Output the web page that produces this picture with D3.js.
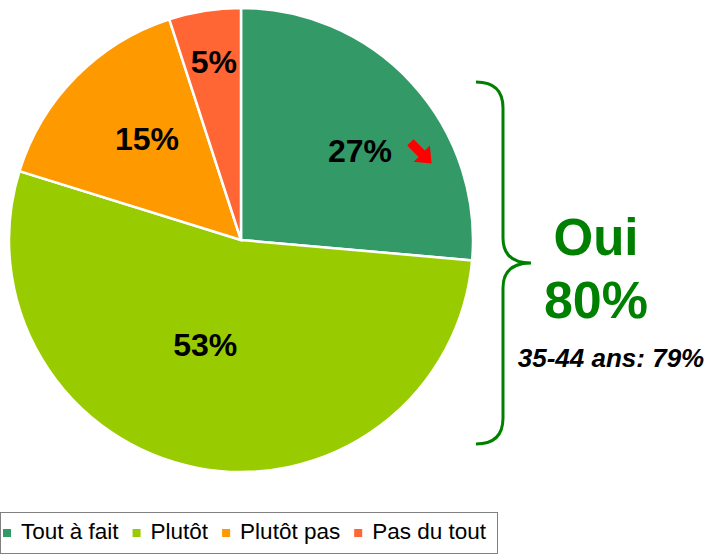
<!DOCTYPE html>
<html>
<head>
<meta charset="utf-8">
<script src="https://cdn.jsdelivr.net/npm/d3@7"></script>
<style>
  body { margin: 0; background: #fff; }
  text { font-family: Arial, "Liberation Sans", sans-serif; }
</style>
</head>
<body>
<div id="chart"></div>
<script>
// slice shares as they appear on the pie, and the labels printed on it
const categories = ["Tout à fait", "Plutôt", "Plutôt pas", "Pas du tout"];
const shares = [26.4, 53.4, 15.2, 5.0];
const sliceLabels = ["27%", "53%", "15%", "5%"];
const colors = ["#339966", "#99CC00", "#FF9900", "#FF6633"];
const yesLabel = "Oui";
const yesValue = "80%";
const subNote = "35-44 ans: 79%";

function drawPie() {
    const width = 710;
    const height = 555;
    const cx = 241, cy = 240, radius = 232;

    var svg = d3.select('#chart')
        .append('svg')
        .attr('width', width)
        .attr('height', height);

    var data = categories.map((c, i) => ({ cat: c, value: shares[i], label: sliceLabels[i], color: colors[i] }));

    var pie = d3.pie().sort(null).value(d => d.value);
    var arc = d3.arc().innerRadius(0).outerRadius(radius);

    var g = svg.append('g').attr('transform', `translate(${cx},${cy})`);

    g.selectAll('path')
        .data(pie(data))
        .enter()
        .append('path')
        .attr('d', arc)
        .attr('fill', d => d.data.color)
        .attr('stroke', 'white')
        .attr('stroke-width', 2.5);

    // label placement: radius fraction and angle shift (deg) from slice middle
    var labelRadius = [0.643, 0.478, 0.598, 0.78];
    var labelShift = [5.4, 7.7, 2.7, 0.4];
    g.selectAll('text.pct')
        .data(pie(data))
        .enter()
        .append('text')
        .attr('class', 'pct')
        .attr('transform', (d, i) => {
            var a = (d.startAngle + d.endAngle) / 2 + labelShift[i] * Math.PI / 180;
            var r = radius * labelRadius[i];
            return `translate(${Math.sin(a) * r},${-Math.cos(a) * r})`;
        })
        .attr('text-anchor', 'middle')
        .attr('dy', '0.36em')
        .style('font-size', '32px')
        .style('font-weight', 'bold')
        .text(d => d.data.label);

    // small red arrow pointing down-right next to 27%
    svg.append('path')
        .attr('transform', 'translate(421,153) rotate(45)')
        .attr('d', 'M-15,-4.5 L1,-4.5 L1,-11.5 L15,0 L1,11.5 L1,4.5 L-15,4.5 Z')
        .attr('fill', '#FF0000');

    // brace for the "yes" answers
    svg.append('path')
        .attr('d', 'M476,82 Q503,82 503,108 L503,238 Q503,263 531,263 Q503,263 503,288 L503,418 Q503,444 476,444')
        .attr('fill', 'none')
        .attr('stroke', '#008000')
        .attr('stroke-width', 3);

    svg.append('text')
        .attr('x', 596)
        .attr('y', 255)
        .attr('text-anchor', 'middle')
        .style('font-size', '51px')
        .style('font-weight', 'bold')
        .style('fill', '#008000')
        .text(yesLabel);

    svg.append('text')
        .attr('x', 596)
        .attr('y', 318)
        .attr('text-anchor', 'middle')
        .style('font-size', '52px')
        .style('font-weight', 'bold')
        .style('fill', '#008000')
        .text(yesValue);

    svg.append('text')
        .attr('x', 611)
        .attr('y', 367)
        .attr('text-anchor', 'middle')
        .style('font-size', '26px')
        .style('font-weight', 'bold')
        .style('font-style', 'italic')
        .text(subNote);

    // legend
    var legend = svg.append('g');
    legend.append('rect')
        .attr('x', 0.5)
        .attr('y', 512.5)
        .attr('width', 497)
        .attr('height', 41)
        .attr('fill', 'white')
        .attr('stroke', '#808080')
        .attr('stroke-width', 1);

    var x = 3;
    categories.forEach((c, i) => {
        legend.append('rect')
            .attr('x', x)
            .attr('y', 529)
            .attr('width', 8)
            .attr('height', 8)
            .attr('fill', colors[i]);
        var t = legend.append('text')
            .attr('x', x + 18)
            .attr('y', 539)
            .style('font-size', '22.5px')
            .text(c);
        x = x + 18 + t.node().getComputedTextLength() + 14;
    });
}

drawPie();
</script>
</body>
</html>
